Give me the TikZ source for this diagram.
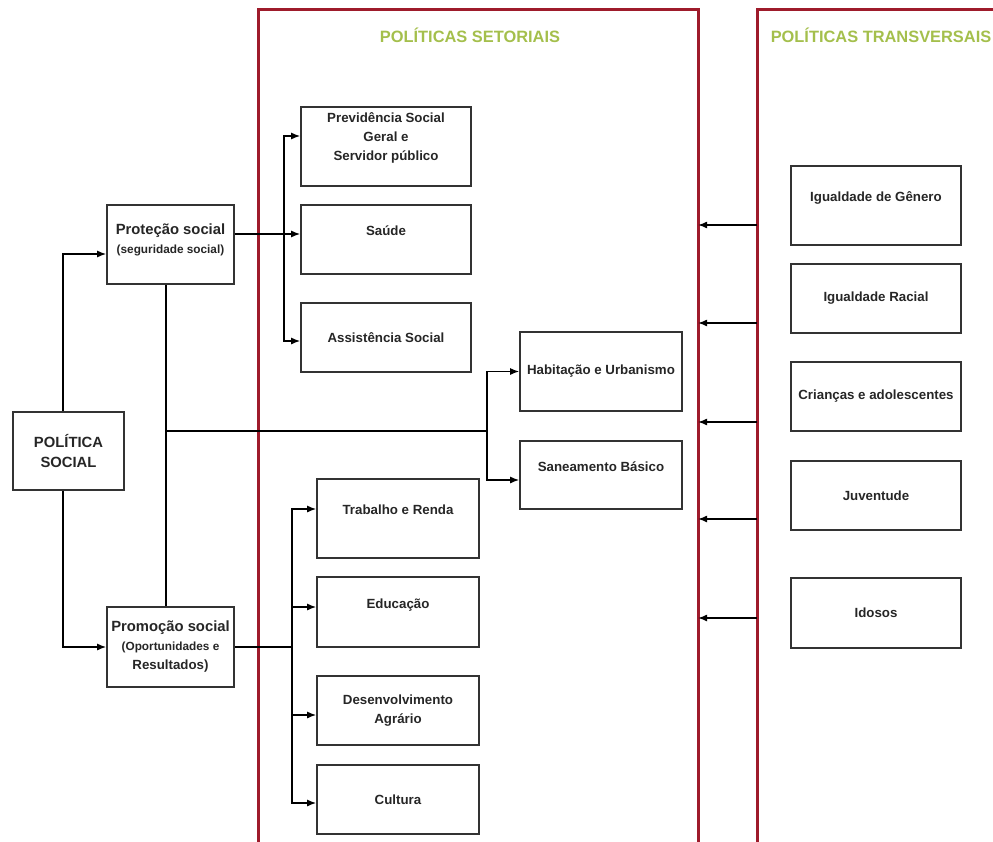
\documentclass[tikz,border=0pt]{standalone}
\usepackage{fontspec}
\setmainfont{Liberation Sans}
\usetikzlibrary{arrows.meta}

\definecolor{framered}{HTML}{9E1B2B}
\definecolor{titlegreen}{HTML}{A4BF4C}

\tikzset{
    box/.style={draw=black!80, line width=1.6pt, inner sep=0pt, align=center,
        font=\fontsize{13.3}{19}\selectfont\bfseries, text=black!85},
    lbl/.style={align=center, font=\fontsize{13.3}{19}\selectfont\bfseries, text=black!85},
    redframe/.style={draw=framered, line width=3pt, outer sep=0pt, inner sep=0pt},
    heading/.style={font=\fontsize{16.4}{20}\selectfont\bfseries, text=titlegreen},
    link/.style={line width=1.5pt},
    arr/.style={link, -{Latex[length=9pt,width=7pt]}}
}

\begin{document}
\begin{tikzpicture}[x=1pt, y=-1pt]
    \clip (0,0) rectangle (993,841);
    % the two frames
    \node[redframe, minimum width=440, minimum height=836] (setor) at (478,427) {};
    \node[redframe, minimum width=260, minimum height=836] (trans) at (887,427) {};
    \node[heading] (setor-t) at (470,35) {POLÍTICAS SETORIAIS};
    \node[heading] (trans-t) at (881,35) {POLÍTICAS TRANSVERSAIS};
    % left column
    \node[box, minimum width=111, minimum height=78, font=\fontsize{14.8}{20}\selectfont\bfseries] (politica) at (68.5,451) {POLÍTICA\\SOCIAL};
    \node[box, minimum width=127, minimum height=79,
        label={[lbl, yshift=4.5pt]center:{\fontsize{14.8}{20}\selectfont Proteção social\\\fontsize{11.8}{20}\selectfont (seguridade social)}}] (protecao) at (170.5,244.5) {};
    \node[box, minimum width=127, minimum height=80] (promocao) at (170.5,647)
        {\fontsize{14.8}{19}\selectfont Promoção social\\\fontsize{11.8}{17.5}\selectfont (Oportunidades e\\Resultados)};
    % setoriais
    \node[box, minimum width=170, minimum height=79,
        label={[lbl, yshift=8.5pt]center:{Previdência Social\\Geral e\\Servidor público}}] (prev) at (386,146.5) {};
    \node[box, minimum width=170, minimum height=69,
        label={[lbl, yshift=8.5pt]center:Saúde}] (saude) at (386,239.5) {};
    \node[box, minimum width=170, minimum height=69] (assist) at (386,337.5) {Assistência Social};
    \node[box, minimum width=162, minimum height=79] (habit) at (601,371.5) {Habitação e Urbanismo};
    \node[box, minimum width=162, minimum height=68,
        label={[lbl, yshift=8pt]center:Saneamento Básico}] (saneam) at (601,475) {};
    \node[box, minimum width=162, minimum height=79,
        label={[lbl, yshift=8.5pt]center:Trabalho e Renda}] (trab) at (398,518.5) {};
    \node[box, minimum width=162, minimum height=70,
        label={[lbl, yshift=7pt]center:Educação}] (educ) at (398,612) {};
    \node[box, minimum width=162, minimum height=69] (desenv) at (398,710.5) {Desenvolvimento\\Agrário};
    \node[box, minimum width=162, minimum height=69] (cultura) at (398,799.5) {Cultura};
    % transversais
    \node[box, minimum width=170, minimum height=79,
        label={[lbl, yshift=7.5pt]center:Igualdade de Gênero}] (genero) at (876,205.5) {};
    \node[box, minimum width=170, minimum height=69] (racial) at (876,298.5) {Igualdade Racial};
    \node[box, minimum width=170, minimum height=69] (criancas) at (876,396.5) {Crianças e adolescentes};
    \node[box, minimum width=170, minimum height=69] (juvent) at (876,495.5) {Juventude};
    \node[box, minimum width=170, minimum height=70] (idosos) at (876,613) {Idosos};
    % junctions
    \coordinate (pbus) at (284,234);
    \coordinate (hjunc) at (166,431);
    \coordinate (hbus) at (487,431);
    \coordinate (mbus) at (292,647);
    % connectors
    \draw[arr] ([xshift=-5.5pt]politica.north) |- ([yshift=-9.5pt]protecao.west);
    \draw[arr] ([xshift=-5.5pt]politica.south) |- (promocao.west);
    \draw[arr] ([yshift=10.5pt]protecao.east) -- (pbus -| saude.west);
    \draw[arr] (pbus) |- ([yshift=10.5pt]prev.west);
    \draw[arr] (pbus) |- ([yshift=-3.5pt]assist.west);
    \draw[link] ([xshift=-4.5pt]protecao.south) -- ([xshift=-4.5pt]promocao.north);
    \draw[link] (hjunc) -- (hbus);
    \draw[arr] (hbus) |- (habit.west);
    \draw[arr] (hbus) |- ([yshift=-5pt]saneam.west);
    \draw[link] (promocao.east) -- (mbus);
    \draw[arr] (mbus) |- ([yshift=9.5pt]trab.west);
    \draw[arr] (mbus) |- ([yshift=5pt]educ.west);
    \draw[arr] (mbus) |- ([yshift=-4.5pt]desenv.west);
    \draw[arr] (mbus) |- ([yshift=-3.5pt]cultura.west);
    \foreach \y in {225,323,422,519,618}
        \draw[arr] (trans.west |- 0,\y) -- (setor.east |- 0,\y);
\end{tikzpicture}
\end{document}
